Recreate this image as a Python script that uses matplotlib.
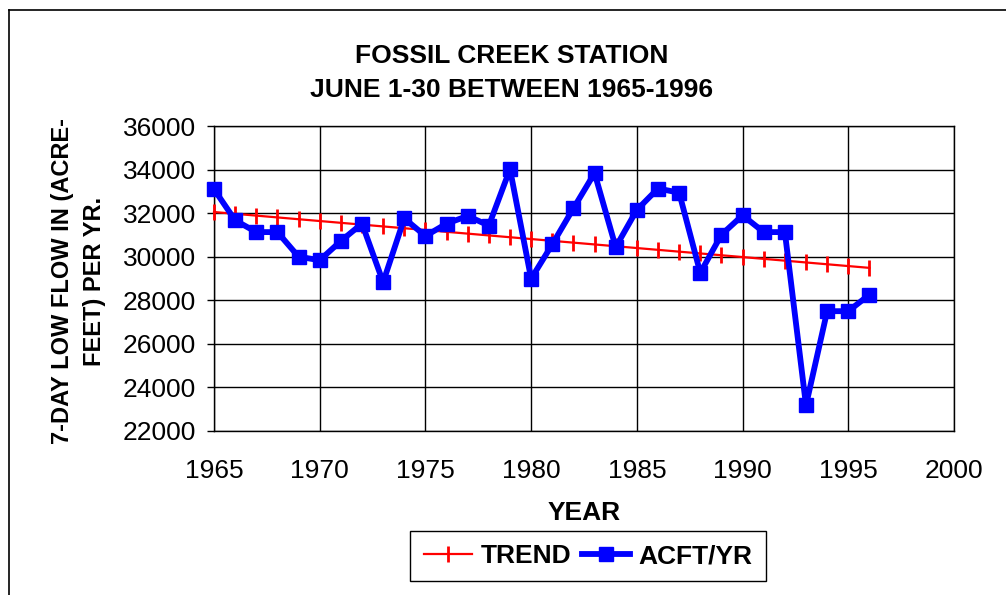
import matplotlib
matplotlib.use("Agg")
import matplotlib.pyplot as plt
from matplotlib.lines import Line2D
import numpy as np

plt.rcParams['font.family'] = ['Liberation Sans', 'DejaVu Sans']

# 7日最低流量 (acre-feet/yr), 1965-1996
years = list(range(1965, 1997))
acft = [33100, 31670, 31130, 31130, 30000, 29840, 30720, 31520,
        28830, 31760, 30950, 31520, 31870, 31430, 34020, 28990,
        30570, 32220, 33840, 30440, 32150, 33130, 32940, 29260,
        31010, 31900, 31130, 31130, 23180, 27500, 27500, 28260]

# 线性趋势线（最小二乘）
coef = np.polyfit(years, acft, 1)
trend = np.polyval(coef, years)

x_ticks = list(range(1965, 2001, 5))
y_ticks = list(range(22000, 36001, 2000))

fs = 19

fig = plt.figure(figsize=(10.06, 5.95), dpi=100)
ax = fig.add_axes([214 / 1006, 1 - 431 / 595, 740 / 1006, 305 / 595])

ax.plot(years, trend, color='red', lw=1.6, marker='|', ms=11, mew=2,
        label='TREND', zorder=3, clip_on=False)
ax.plot(years, acft, color='#0000ff', lw=4.2, marker='s', ms=10,
        label='ACFT/YR', zorder=4, clip_on=False)

ax.set_xlim(1965, 2000)
ax.set_ylim(22000, 36000)
ax.set_xticks(x_ticks)
ax.set_yticks(y_ticks)
ax.tick_params(axis='y', direction='out', length=5, width=1, labelsize=fs, pad=8)
ax.tick_params(axis='x', length=0, labelsize=fs, pad=20)
ax.grid(True, color='black', lw=1)
for s in ax.spines.values():
    s.set_color('black')
    s.set_linewidth(1)

fig.text(512 / 1006, 1 - 73 / 595, 'FOSSIL CREEK STATION\nJUNE 1-30 BETWEEN 1965-1996',
         ha='center', va='center', fontsize=fs, fontweight='bold', linespacing=1.55)
fig.text(79 / 1006, 1 - 281 / 595, '7-DAY LOW FLOW IN (ACRE-\nFEET) PER YR.',
         ha='center', va='center', rotation=90, fontsize=17, fontweight='bold',
         linespacing=1.5)
fig.text(584 / 1006, 1 - 513 / 595, 'YEAR', ha='center', va='center',
         fontsize=fs, fontweight='bold')

leg = fig.legend(loc='center', bbox_to_anchor=(588 / 1006, 1 - 556 / 595), ncol=2,
                 prop={'weight': 'bold', 'size': fs},
                 frameon=True, fancybox=False, edgecolor='black', framealpha=1,
                 handlelength=1.85, handletextpad=0.3, columnspacing=0.4,
                 borderpad=0.5)
leg.get_frame().set_linewidth(1)

# 图表外框
fig.add_artist(Line2D([9 / 1006, 9 / 1006], [0, 1 - 10 / 595], color='black', lw=1.2))
fig.add_artist(Line2D([9 / 1006, 1], [1 - 10 / 595, 1 - 10 / 595], color='black', lw=1.2))

fig.savefig('out.png', dpi=100)
